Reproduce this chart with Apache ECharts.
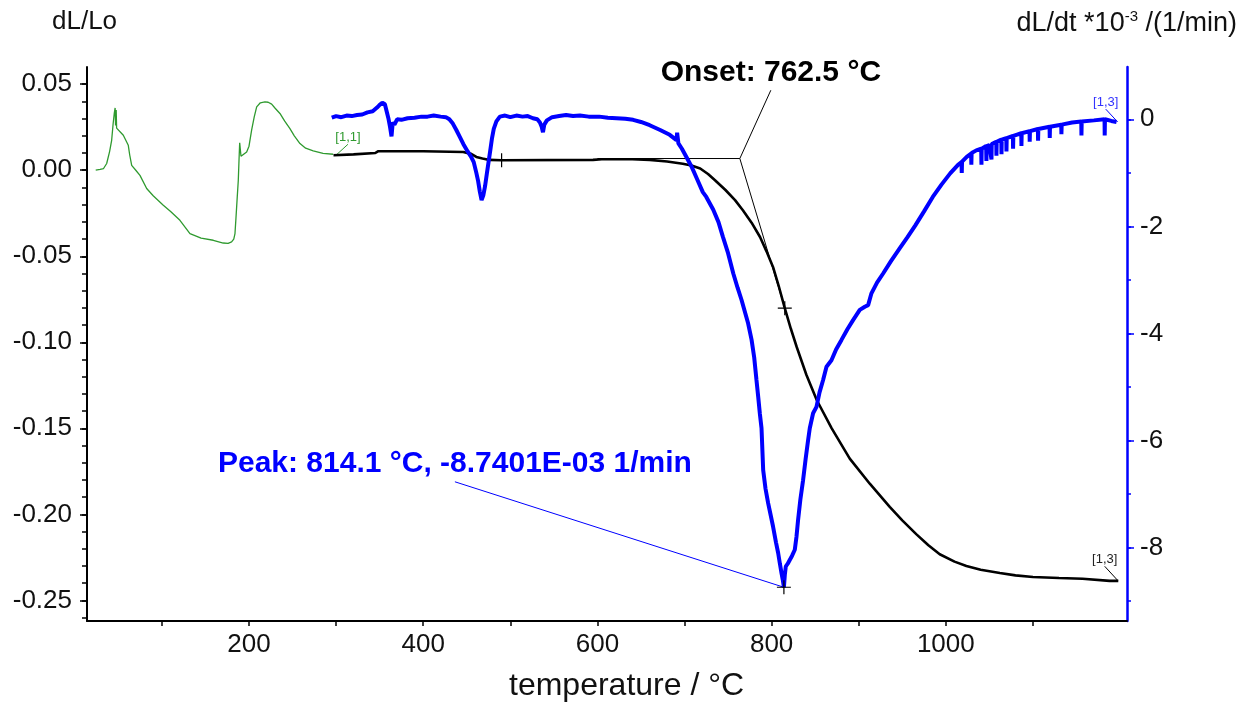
<!DOCTYPE html>
<html>
<head>
<meta charset="utf-8">
<script src="https://cdn.jsdelivr.net/npm/echarts@6/dist/echarts.min.js"></script>
<style>
html,body{margin:0;padding:0;background:#fff;}
#chart{width:1237px;height:709px;}
</style>
</head>
<body>
<div id="chart"></div>
<script>
// ---------- data (temperature °C, value) ----------
const greenDL = [[24,0.0],[29,0.0005],[33,0.001],[36.6,0.0039],[40,0.011],[42.3,0.0174],[44,0.027],[45.3,0.033],[46.3,0.0362],[46.8,0.026],[47.5,0.035],[48,0.0245],[50,0.0235],[55.7,0.0203],[61.4,0.0145],[63,0.009],[65.3,0.0028],[70,0.0],[74.8,-0.003],[82.5,-0.0106],[90,-0.0148],[101.6,-0.0203],[110,-0.024],[120.7,-0.0291],[132.2,-0.0368],[145,-0.0395],[159,-0.0407],[170.4,-0.0423],[176,-0.0425],[180,-0.0417],[182.5,-0.04],[183.9,-0.0368],[185,-0.028],[186.5,-0.0155],[187.7,-0.0058],[188.5,0.0055],[189.3,0.0159],[189.6,0.0159],[190.8,0.0081],[192,0.0085],[197.3,0.0106],[200,0.014],[203,0.0233],[206,0.031],[208.8,0.0368],[213,0.0392],[218.3,0.0397],[222,0.0395],[226,0.0384],[230,0.036],[235.5,0.033],[241,0.0285],[247,0.0242],[252,0.02],[258.5,0.0155],[265,0.0128],[273.7,0.0112],[285,0.0098],[296.7,0.0093]];

const blackDL = [[297,0.0087],[320,0.0092],[345,0.0100],[348,0.0110],[400,0.0110],[446,0.0106],[455,0.0095],[461,0.0077],[468,0.0068],[476,0.0060],[490,0.0058],[595,0.0060],[605,0.0064],[640,0.0064],[660,0.0060],[680,0.0051],[698,0.0038],[708,0.0027],[718,0.0010],[727,-0.0022],[735,-0.0058],[747,-0.0115],[758,-0.0174],[767,-0.0233],[777,-0.0305],[786.7,-0.0388],[794,-0.0470],[801.6,-0.0562],[808,-0.0670],[815.1,-0.0802],[822,-0.0920],[828.9,-0.1029],[840,-0.1190],[851.9,-0.1337],[869,-0.1500],[889.7,-0.1676],[912.7,-0.1822],[935.6,-0.1957],[950,-0.2035],[966,-0.2115],[980,-0.2180],[993,-0.2232],[1010,-0.2275],[1023.6,-0.2300],[1040,-0.2322],[1062,-0.2341],[1080,-0.2355],[1100,-0.2364],[1130,-0.2370],[1157,-0.2374],[1188,-0.2387],[1198,-0.2387]];

const blueDLdt = [[295,0.03],[300,0.06],[306,0.04],[312,0.07],[318,0.06],[324,0.08],[330,0.09],[336,0.13],[342,0.15],[347,0.22],[350,0.27],[353,0.31],[356,0.28],[358,0.15],[360,0.02],[362,-0.15],[363.6,-0.32],[365,-0.06],[367,-0.1],[370,0.0],[375,-0.01],[382,0.02],[390,0.03],[398,0.05],[405,0.05],[412,0.07],[420,0.05],[426,0.04],[430,0.0],[434,-0.08],[438,-0.2],[442,-0.33],[446,-0.46],[451,-0.6],[455,-0.7],[458,-0.8],[461,-1.0],[463,-1.15],[465,-1.35],[467,-1.51],[469,-1.42],[471,-1.25],[473,-1.02],[475,-0.8],[477,-0.58],[479,-0.35],[481,-0.18],[484,-0.04],[488,0.05],[494,0.07],[500,0.04],[507,0.07],[514,0.05],[520,0.06],[526,0.02],[531,0.0],[534,-0.06],[536,-0.14],[537.5,-0.24],[539,-0.1],[542,-0.02],[548,0.04],[556,0.06],[564,0.08],[572,0.06],[580,0.07],[590,0.05],[602,0.05],[612,0.03],[622,0.02],[632,0.01],[641,-0.01],[650,-0.05],[660,-0.11],[672,-0.2],[683,-0.29],[690.8,-0.39],[691.5,-0.25],[693,-0.45],[697,-0.55],[702,-0.70],[708,-0.88],[714,-1.1],[721,-1.36],[725,-1.45],[733,-1.69],[739,-1.92],[744,-2.19],[750,-2.5],[756,-2.88],[761,-3.15],[765.4,-3.37],[773,-3.81],[777,-4.12],[780,-4.45],[782.6,-4.87],[784.7,-5.2],[786.5,-5.5],[788.4,-5.77],[790.3,-6.55],[793,-6.9],[796,-7.17],[799,-7.4],[801.7,-7.61],[805,-7.9],[807.5,-8.10],[809.5,-8.3],[811.4,-8.48],[812.8,-8.6],[814.1,-8.74],[815.2,-8.5],[816.3,-8.35],[818.5,-8.3],[820.8,-8.23],[823.5,-8.15],[826.6,-8.04],[828.5,-7.8],[830.4,-7.48],[833,-7.1],[836.1,-6.74],[839,-6.35],[841.9,-5.99],[843.8,-5.77],[847.6,-5.49],[851.5,-5.37],[855,-5.1],[859.1,-4.87],[863,-4.62],[868.7,-4.5],[874,-4.3],[880.2,-4.12],[887,-3.92],[893.5,-3.75],[901.2,-3.56],[907,-3.5],[910.8,-3.47],[914.6,-3.25],[921,-3.05],[928,-2.88],[937,-2.65],[947,-2.41],[956,-2.2],[965,-1.98],[975,-1.72],[985,-1.45],[995,-1.22],[1005,-1.01],[1014,-0.85],[1018,-0.80],[1018.3,-1.0],[1018.6,-0.79],[1024,-0.70],[1029,-0.64],[1029.3,-0.85],[1029.6,-0.63],[1035,-0.58],[1040.6,-0.55],[1040.9,-0.85],[1041.2,-0.55],[1046.3,-0.5],[1046.6,-0.78],[1046.9,-0.5],[1050,-0.48],[1052.2,-0.46],[1052.4,-0.75],[1052.7,-0.46],[1057.9,-0.42],[1058.1,-0.68],[1058.4,-0.42],[1063.7,-0.38],[1063.9,-0.65],[1064.2,-0.38],[1069.4,-0.35],[1069.6,-0.6],[1069.9,-0.35],[1077,-0.31],[1077.2,-0.55],[1077.5,-0.31],[1081,-0.29],[1086.6,-0.26],[1086.8,-0.5],[1087.1,-0.26],[1096.1,-0.22],[1096.3,-0.42],[1096.6,-0.22],[1105.7,-0.18],[1105.9,-0.4],[1106.2,-0.18],[1119.1,-0.14],[1119.3,-0.35],[1119.6,-0.14],[1132.5,-0.1],[1132.7,-0.28],[1133,-0.1],[1145,-0.06],[1155.5,-0.04],[1155.7,-0.3],[1156,-0.04],[1170,-0.02],[1182.2,0.0],[1182.4,-0.3],[1182.7,0.0],[1190,-0.03],[1196,-0.05]];

// annotations (data units)
const onsetHorizontal = [[600,0.0068],[763.5,0.0068],[799.1,0.0465]];
const onsetTangent = [[763.5,0.0068],[815.1,-0.0802]];
const onsetLabelAt = [799.1,0.0465];
const onsetText = 'Onset: 762.5 °C';
const peakLeader = [[436.4,-6.77],[814.1,-8.74]];
const peakText = 'Peak: 814.1 °C, -8.7401E-03 1/min';
const crossesDL = [[490,0.0058],[815.1,-0.0802]];
const crossesDLdt = [[814.1,-8.74]];
const tag11Leader = [[313.6,0.0151],[299.8,0.0087]];
const tag13BlackLeader = [[1182.4,-0.2302],[1197.3,-0.2384]];
const tag13BlueLeader = [[1183.6,0.19],[1197.3,-0.05]];

// axis ticks / labels
const xTicks = [100,200,300,400,500,600,700,800,900,1000,1100];
const xLabels = [200,400,600,800,1000];
const leftLabels = [-0.25,-0.2,-0.15,-0.1,-0.05,0,0.05];
const leftMinor = [-0.26,-0.25,-0.24,-0.23,-0.22,-0.21,-0.2,-0.19,-0.18,-0.17,-0.16,-0.15,-0.14,-0.13,-0.12,-0.11,-0.1,-0.09,-0.08,-0.07,-0.06,-0.05,-0.04,-0.03,-0.02,-0.01,0,0.01,0.02,0.03,0.04,0.05];
const rightLabels = [-8,-6,-4,-2,0];
const rightMinor = [-9,-8,-7,-6,-5,-4,-3,-2,-1,0];

const FONT = '"Liberation Sans", Arial, sans-serif';
const BLUE = '#0000ff';
const GREEN = '#2f9a2f';

const chart = echarts.init(document.getElementById('chart'), null, {renderer:'canvas'});
const yLeft = {min:-0.262, max:0.06};
const yRight = {min:-9.37, max:0.977};

function textPoint(name, coord, yIdx, text, style){
  return {
    name, type:'scatter', yAxisIndex:yIdx, symbolSize:0, silent:true, z:10,
    itemStyle:{opacity:1},
    data:[coord],
    label:Object.assign({show:true, position:'top', formatter:text, fontFamily:FONT, opacity:1}, style)
  };
}
function polyline(name, data, yIdx, color, width){
  return {name, type:'line', yAxisIndex:yIdx, data, showSymbol:false, silent:true,
    lineStyle:{color, width}, z:4};
}

const option = {
  animation:false,
  backgroundColor:'#fff',
  grid:{left:87, right:110, top:67, bottom:88, containLabel:false, outerBoundsMode:'none'},
  xAxis:{
    type:'value', min:14, max:1208,
    axisLine:{onZero:false, lineStyle:{color:'#000', width:2}},
    axisTick:{customValues:xTicks, length:5, lineStyle:{color:'#000', width:1.5}},
    axisLabel:{customValues:xLabels, margin:11, fontSize:26, color:'#111', fontFamily:FONT,
      formatter:v=>String(v)},
    splitLine:{show:false}
  },
  yAxis:[
    {type:'value', position:'left', min:yLeft.min, max:yLeft.max,
     axisLine:{show:true, onZero:false, lineStyle:{color:'#000', width:2}},
     axisTick:{show:true, customValues:leftLabels, length:7, lineStyle:{color:'#000', width:1.5}},
     axisLabel:{customValues:leftLabels, margin:15, fontSize:26, color:'#111', fontFamily:FONT,
       formatter:v=>Number(v).toFixed(2)},
     splitLine:{show:false}},
    {type:'value', position:'right', min:yRight.min, max:yRight.max,
     axisLine:{show:true, onZero:false, lineStyle:{color:BLUE, width:2.5}},
     axisTick:{show:true, customValues:rightLabels, length:7, lineStyle:{color:BLUE, width:1.5}},
     axisLabel:{customValues:rightLabels, margin:13, fontSize:26, color:'#111', fontFamily:FONT,
       formatter:v=>String(v)},
     splitLine:{show:false}},
    {type:'value', position:'left', min:yLeft.min, max:yLeft.max,
     axisLine:{show:false, onZero:false},
     axisTick:{show:true, customValues:leftMinor, length:5, lineStyle:{color:'#000', width:1.5}},
     axisLabel:{show:false}, splitLine:{show:false}},
    {type:'value', position:'right', min:yRight.min, max:yRight.max,
     axisLine:{show:false, onZero:false},
     axisTick:{show:true, customValues:rightMinor, length:4, lineStyle:{color:BLUE, width:1.5}},
     axisLabel:{show:false}, splitLine:{show:false}}
  ],
  graphic:[
    {type:'text', left:52, top:9, style:{text:'dL/Lo', fontSize:26, fontFamily:FONT, fill:'#111'}},
    {type:'text', right:0, top:9, style:{
      text:'{a|dL/dt *10}{s|-3}{a| /(1/min)}', fill:'#111',
      rich:{a:{fontSize:27, fontFamily:FONT, fill:'#111', lineHeight:30},
            s:{fontSize:15, fontFamily:FONT, fill:'#111', lineHeight:25, verticalAlign:'top'}}
    }},
    {type:'text', left:509, top:670, style:{text:'temperature / °C', fontSize:32, fontFamily:FONT, fill:'#111'}}
  ],
  series:[
    polyline('dL/Lo (1)', greenDL, 0, GREEN, 1.3),
    Object.assign(polyline('dL/Lo', blackDL, 0, '#000', 2.6), {z:5}),
    Object.assign(polyline('dL/dt', blueDLdt, 1, BLUE, 4), {z:6}),
    polyline('onset lines', onsetHorizontal, 0, '#000', 1),
    polyline('onset tangent', onsetTangent, 0, '#000', 1),
    Object.assign(polyline('peak leader', peakLeader, 1, BLUE, 1), {z:7}),
    polyline('tag11', tag11Leader, 0, GREEN, 1),
    polyline('tag13k', tag13BlackLeader, 0, '#000', 1),
    polyline('tag13b', tag13BlueLeader, 1, BLUE, 1),
    {name:'crosses', type:'scatter', yAxisIndex:0, data:crossesDL, symbol:'path://M0,7L14,7M7,0L7,14', symbolSize:14,
      itemStyle:{color:'none', borderColor:'#000', borderWidth:1.2, opacity:1}, z:8, silent:true},
    {name:'peak cross', type:'scatter', yAxisIndex:1, data:crossesDLdt, symbol:'path://M0,7L14,7M7,0L7,14', symbolSize:14,
      itemStyle:{color:'none', borderColor:'#000', borderWidth:1.2, opacity:1}, z:8, silent:true},
    textPoint('onset label', onsetLabelAt, 0, onsetText, {fontSize:30, fontWeight:'bold', color:'#000', distance:2}),
    textPoint('peak label', peakLeader[0], 1, peakText, {fontSize:30, fontWeight:'bold', color:BLUE, distance:3}),
    textPoint('tag11 label', tag11Leader[0], 0, '[1,1]', {fontSize:13, color:GREEN, distance:0}),
    textPoint('tag13k label', tag13BlackLeader[0], 0, '[1,3]', {fontSize:13, color:'#222', distance:0}),
    textPoint('tag13b label', tag13BlueLeader[0], 1, '[1,3]', {fontSize:13, color:'#3333ff', distance:0})
  ]
};
chart.setOption(option);
</script>
</body>
</html>
